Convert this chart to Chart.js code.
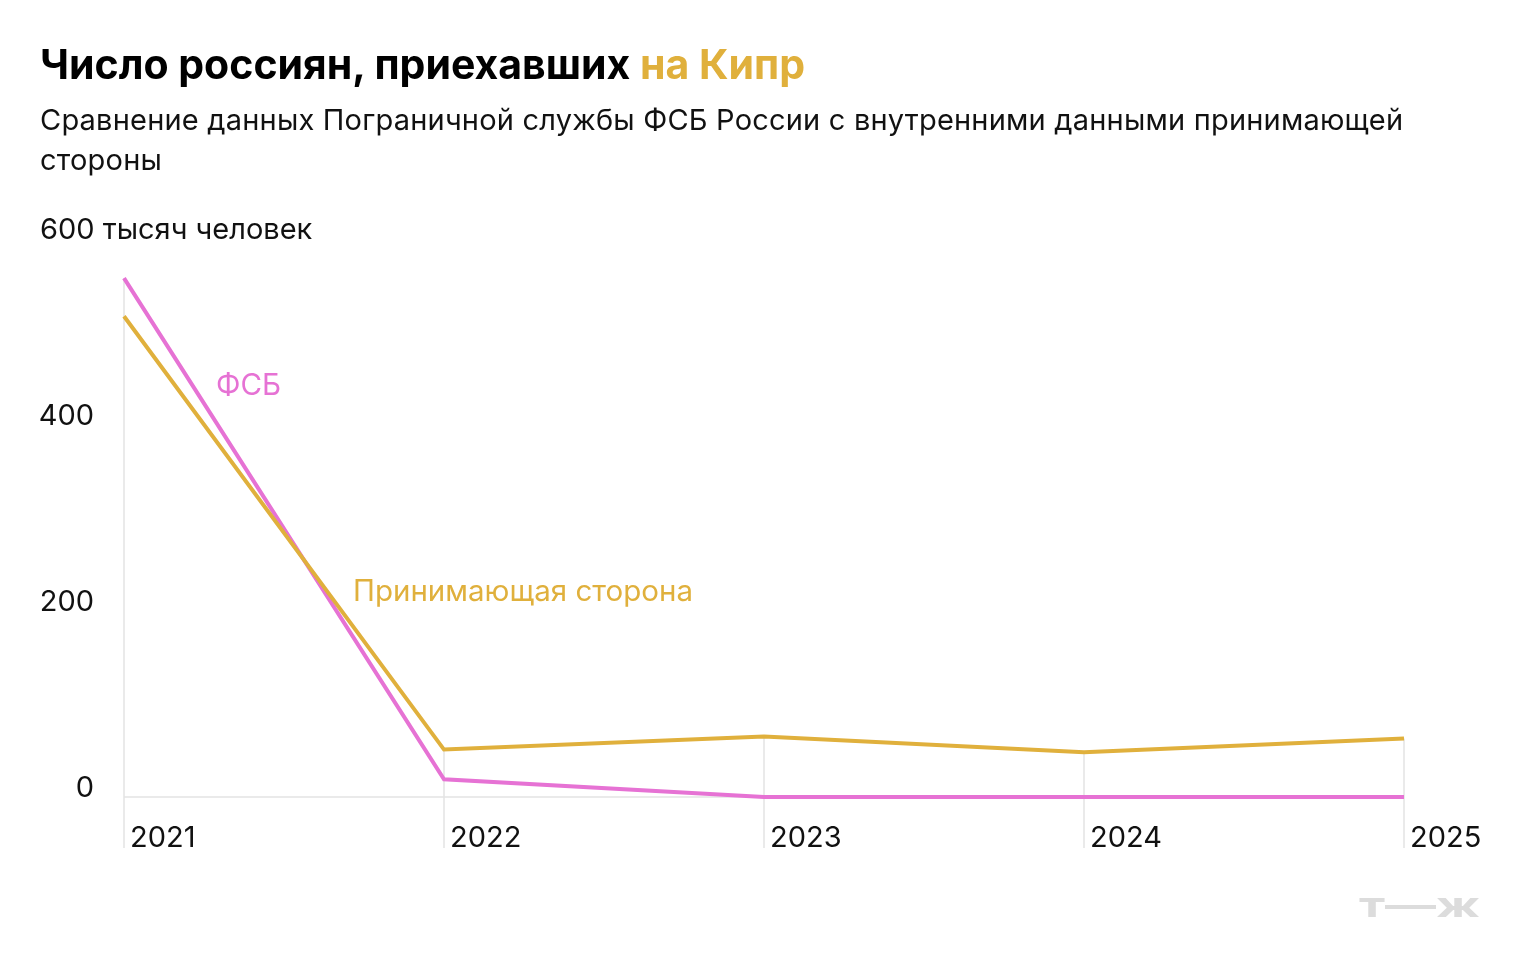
<!DOCTYPE html>
<html lang="ru">
<head>
<meta charset="utf-8">
<script src="https://cdn.jsdelivr.net/npm/chart.js@4"></script>
<style>
  html, body { margin: 0; padding: 0; background: #fff; }
  body { width: 1520px; height: 978px; position: relative; overflow: hidden; font-family: Inter, "Noto Sans", sans-serif; }
  #wrap { position: absolute; left: 0; top: 0; width: 1520px; height: 978px; }
  h1 { position: absolute; left: 40px; top: 40px; margin: 0; font-size: 41px; font-weight: 700; letter-spacing: 0; color: #000; line-height: 48px; white-space: nowrap; }
  h1 span { color: #E0B03C; }
  p.sub { position: absolute; left: 40px; top: 100px; width: 1420px; margin: 0; font-size: 29px; letter-spacing: 0.2px; line-height: 40px; color: #111; }
</style>
</head>
<body>
<div id="wrap"><canvas id="myChart" width="1520" height="978"></canvas></div>
<h1>Число россиян, приехавших <span>на Кипр</span></h1>
<p class="sub">Сравнение данных Пограничной службы ФСБ России с внутренними данными принимающей стороны</p>
<script>
const years = ['2021', '2022', '2023', '2024', '2025'];
const fsbValues = [558, 19, 0, 0, 0];
const hostValues = [517, 51, 65, 48, 63];
const yTicks = [0, 200, 400, 600];

const pink = '#E672D4';
const gold = '#E0B03C';
const gridColor = '#E3E3E3';
const font = 'Inter, "Noto Sans", sans-serif';

const decor = {
  id: 'decor',
  beforeDatasetsDraw(chart) {
    const ctx = chart.ctx;
    const x = chart.scales.x, y = chart.scales.y;
    const zero = y.getPixelForValue(0);
    ctx.save();
    ctx.strokeStyle = gridColor;
    ctx.lineWidth = 1.5;
    // zero line
    ctx.beginPath();
    ctx.moveTo(x.getPixelForValue(0), zero);
    ctx.lineTo(x.getPixelForValue(years.length - 1), zero);
    ctx.stroke();
    // drop lines from the top point of each year
    years.forEach((yr, i) => {
      const top = Math.max(fsbValues[i], hostValues[i]);
      const px = x.getPixelForValue(i);
      ctx.beginPath();
      ctx.moveTo(px, y.getPixelForValue(top));
      ctx.lineTo(px, zero + 51);
      ctx.stroke();
    });
    ctx.restore();
  },
  afterDraw(chart) {
    const ctx = chart.ctx;
    const x = chart.scales.x, y = chart.scales.y;
    ctx.save();
    ctx.fillStyle = '#111';
    ctx.font = '29px ' + font;
    ctx.textBaseline = 'middle';
    yTicks.forEach(v => {
      const py = y.getPixelForValue(v) - 9;
      if (v === 600) {
        ctx.textAlign = 'left';
        ctx.fillText('600 тысяч человек', 40, py);
      } else {
        ctx.textAlign = 'right';
        ctx.fillText(String(v), 94, py);
      }
    });
    ctx.textAlign = 'left';
    years.forEach((yr, i) => {
      ctx.fillText(yr, x.getPixelForValue(i) + 6, y.getPixelForValue(0) + 41);
    });
    // series labels
    ctx.font = '29.5px ' + font;
    ctx.fillStyle = pink;
    ctx.fillText('ФСБ', x.getPixelForValue(0) + 92, 386);
    ctx.fillStyle = gold;
    ctx.fillText('Принимающая сторона', x.getPixelForValue(0) + 229, 592);
    // logo
    ctx.fillStyle = '#DCDCDC';
    ctx.font = 'bold 34px ' + font;
    ctx.textAlign = 'right';
    ctx.translate(1480, 907);
    ctx.scale(1.5, 1);
    ctx.fillText('т—ж', 0, 0);
    ctx.restore();
  }
};

new Chart(document.getElementById('myChart').getContext('2d'), {
  type: 'line',
  data: {
    labels: years,
    datasets: [
      { label: 'Принимающая сторона', data: hostValues, borderColor: gold, borderWidth: 4, pointRadius: 0, tension: 0, fill: false, clip: false },
      { label: 'ФСБ', data: fsbValues, borderColor: pink, borderWidth: 4, pointRadius: 0, tension: 0, fill: false, clip: false }
    ]
  },
  options: {
    responsive: false,
    animation: false,
    layout: { padding: { left: 124, right: 116, top: 239, bottom: 181 } },
    plugins: { legend: { display: false }, tooltip: { enabled: false } },
    scales: {
      x: { display: false, offset: false },
      y: { display: false, min: 0, max: 600 }
    }
  },
  plugins: [decor]
});
</script>
</body>
</html>
